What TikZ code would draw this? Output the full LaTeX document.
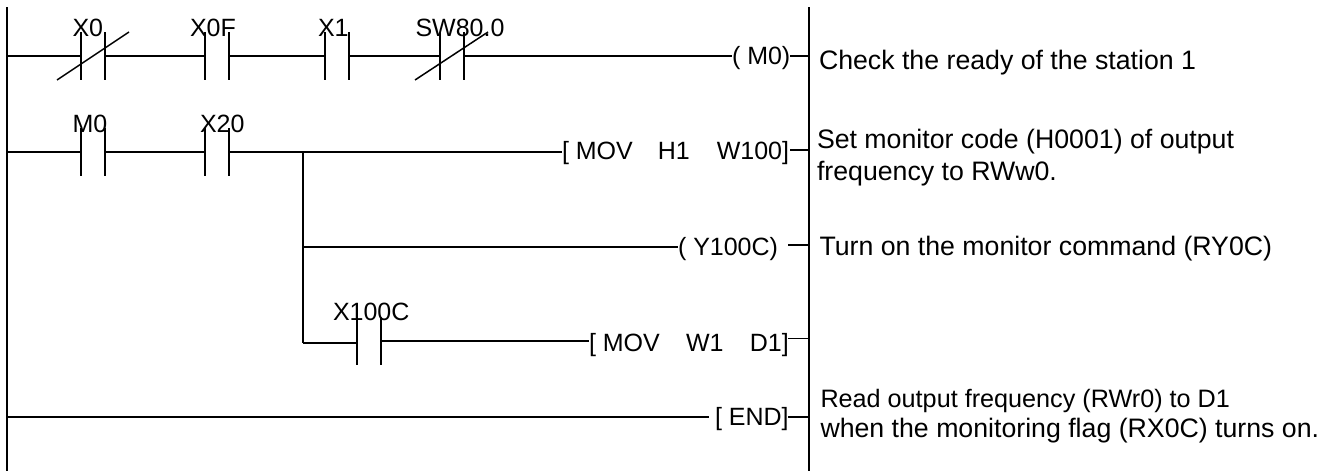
\documentclass[tikz,border=0pt]{standalone}
\usepackage{fontspec}
\setmainfont{Liberation Sans}
\tikzset{
  wire/.style={draw=black,line width=1.5pt},
  lbl/.style={anchor=base west,inner sep=0pt,outer sep=0pt,font=\fontsize{25}{29}\selectfont},
  note/.style={anchor=base west,inner sep=0pt,outer sep=0pt,font=\fontsize{26.7}{31}\selectfont},
  readnote/.style={anchor=base west,inner sep=0pt,outer sep=0pt,font=\fontsize{25.2}{29}\selectfont},
  whennote/.style={anchor=base west,inner sep=0pt,outer sep=0pt,font=\fontsize{26.7}{31}\selectfont},
}
% #1 name, #2 left x, #3 right x, #4 rung y
\newcommand{\contactpts}[4]{%
  \coordinate (#1la) at (#2,#4-24);\coordinate (#1lb) at (#2,#4+24);\coordinate (#1lm) at (#2,#4);
  \coordinate (#1ra) at (#3,#4-24);\coordinate (#1rb) at (#3,#4+24);\coordinate (#1rm) at (#3,#4);
  \draw[wire] (#1la) -- (#1lb);\draw[wire] (#1ra) -- (#1rb);}
\begin{document}
\begin{tikzpicture}[x=1pt,y=-1pt]
\useasboundingbox (0,0) rectangle (1336,471);
\coordinate (railLa) at (7,7);\coordinate (railLb) at (7,471);
\coordinate (railRa) at (809,7);\coordinate (railRb) at (809,471);
\draw[wire] (railLa) -- (railLb);
\draw[wire] (railRa) -- (railRb);
% rung 1
\contactpts{xa}{81}{105}{56}
\contactpts{xf}{205}{229}{56}
\contactpts{xb}{325}{349}{56}
\contactpts{sw}{440}{464}{56}
\coordinate (xas) at (57,80);\coordinate (xae) at (129,32);
\coordinate (sws) at (415,80);\coordinate (swe) at (488,32);
\draw[wire] (xas) -- (xae);
\draw[wire] (sws) -- (swe);
\coordinate (r1L) at (7,56);\coordinate (r1R) at (809,56);
\node[lbl] (tx0) at (72.5,36) {X0};
\node[lbl] (tx0f) at (190,36) {X0F};
\node[lbl] (tx1) at (318,36) {X1};
\node[lbl] (tsw) at (415.5,36) {SW80.0};
\node[lbl] (cm0) at (732,64) {( M0)};
\draw[wire] (r1L) -- (xalm);
\draw[wire] (xarm) -- (xflm);
\draw[wire] (xfrm) -- (xblm);
\draw[wire] (xbrm) -- (swlm);
\coordinate (cm0L) at (732,56);\coordinate (cm0R) at (790,56);
\draw[wire] (swrm) -- (cm0L);
\draw[wire] (cm0R) -- (r1R);
% rung 2
\contactpts{ma}{81}{105}{152}
\contactpts{xc}{205}{229}{152}
\node[lbl] (tm0) at (72.5,132) {M0};
\node[lbl] (tx20) at (200,132) {X20};
\node[lbl] (mov1) at (562,159) {[ MOV\hspace{1em}H1\hspace{1.08em}W100]};
\coordinate (r2L) at (7,152);\coordinate (r2R) at (809,150);
\coordinate (mov1L) at (562,152);\coordinate (mov1R) at (790,150);
\draw[wire] (r2L) -- (malm);
\draw[wire] (marm) -- (xclm);
\draw[wire] (xcrm) -- (mov1L);
\draw[wire] (mov1R) -- (r2R);
% branch
\coordinate (bt) at (303,152);\coordinate (bm) at (303,247);\coordinate (bb) at (303,343);
\draw[wire] (bt) -- (bb);
\node[lbl] (cy) at (678,255) {( Y100C)};
\coordinate (cyL) at (678,247);\coordinate (cyR) at (788,245);\coordinate (r3R) at (809,245);
\draw[wire] (bm) -- (cyL);
\draw[wire] (cyR) -- (r3R);
\contactpts{xd}{357}{381}{341}
\coordinate (xdin) at (357,343);
\node[lbl] (tx100c) at (333,320) {X100C};
\node[lbl] (mov2) at (589,351) {[ MOV\hspace{1.05em}W1\hspace{1.05em}D1]};
\coordinate (mov2L) at (589,341);\coordinate (mov2R) at (788,338.5);\coordinate (r4R) at (809,338.5);
\draw[wire] (bb) -- (xdin);
\draw[wire] (xdrm) -- (mov2L);
\draw[wire] (mov2R) -- (r4R);
% END
\node[lbl] (cend) at (715,425) {[ END]};
\coordinate (r5L) at (7,417);\coordinate (endL) at (709,417);\coordinate (endR) at (788,417);\coordinate (r5R) at (809,417);
\draw[wire] (r5L) -- (endL);
\draw[wire] (endR) -- (r5R);
% notes
\node[note] (n1) at (819,69) {Check the ready of the station 1};
\node[note] (n2a) at (817,148) {Set monitor code (H0001) of output};
\node[note] (n2b) at (817,180) {frequency to RWw0.};
\node[note] (n3) at (819.5,255) {Turn on the monitor command (RY0C)};
\node[readnote] (n4a) at (820.5,407) {Read output frequency (RWr0) to D1};
\node[whennote] (n4b) at (820.5,437) {when the monitoring flag (RX0C) turns on.};
\end{tikzpicture}
\end{document}
